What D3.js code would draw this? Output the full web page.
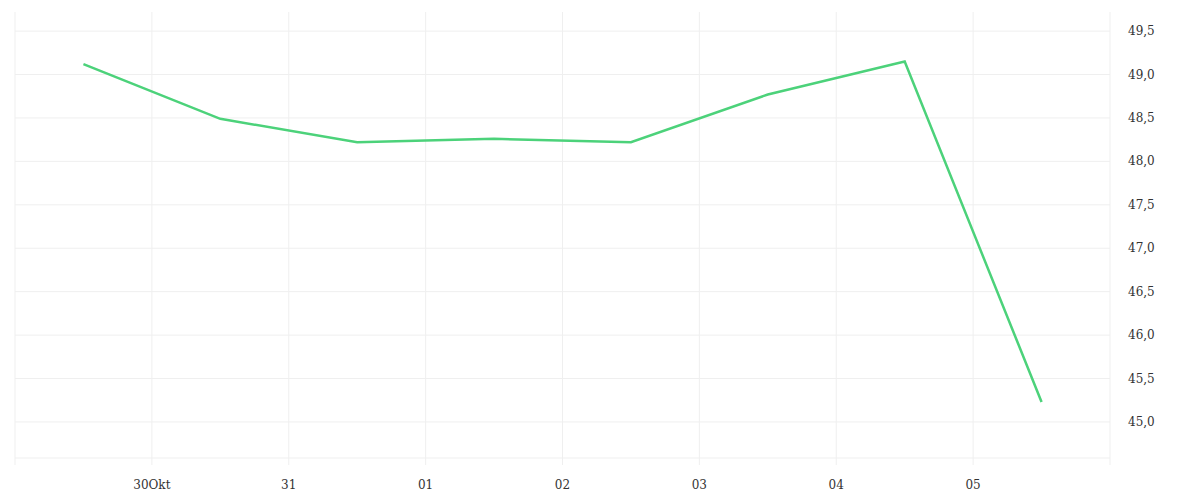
<!DOCTYPE html>
<html><head><meta charset="utf-8">
<script src="https://cdnjs.cloudflare.com/ajax/libs/d3/7.8.5/d3.min.js"></script>
<style>body{margin:0;background:#fff}</style>
</head><body>
<script>
// data
const dates = ["2023-10-29T12:00","2023-10-30T12:00","2023-10-31T12:00","2023-11-01T12:00",
               "2023-11-02T12:00","2023-11-03T12:00","2023-11-04T12:00","2023-11-05T12:00"];
const values = [49.12, 48.49, 48.22, 48.26, 48.22, 48.77, 49.15, 45.23];
const tickDates = ["2023-10-30","2023-10-31","2023-11-01","2023-11-02","2023-11-03","2023-11-04","2023-11-05"];
const tickLabels = ["30Okt","31","01","02","03","04","05"];
const yTicks = [45.0, 45.5, 46.0, 46.5, 47.0, 47.5, 48.0, 48.5, 49.0, 49.5];

const parse = d3.timeParse("%Y-%m-%dT%H:%M");
const parseDay = d3.timeParse("%Y-%m-%d");
const data = dates.map((d, i) => ({date: parse(d), value: values[i]}));

const plotLeft = 15, plotRight = 1110, plotTop = 12, plotBottom = 458;
const svg = d3.select("body").append("svg").attr("width", 1200).attr("height", 500);

const x = d3.scaleTime()
    .domain([parseDay("2023-10-29"), parseDay("2023-11-06")])
    .range([plotLeft, plotRight]);
const y = d3.scaleLinear().domain([44.585, 49.72]).range([plotBottom, plotTop]);

const grid = "#efefef";
const font = "'DejaVu Serif', serif";

// horizontal grid
svg.append("g").selectAll("line").data(yTicks.concat([44.585])).join("line")
    .attr("x1", plotLeft).attr("x2", plotRight)
    .attr("y1", d => y(d)).attr("y2", d => y(d))
    .attr("stroke", grid);

// vertical grid
const vDates = [parseDay("2023-10-29")].concat(tickDates.map(parseDay), [parseDay("2023-11-06")]);
svg.append("g").selectAll("line").data(vDates).join("line")
    .attr("x1", d => x(d)).attr("x2", d => x(d))
    .attr("y1", plotTop).attr("y2", plotBottom + 7)
    .attr("stroke", grid);

// x labels
svg.append("g").selectAll("text").data(tickDates).join("text")
    .attr("x", d => x(parseDay(d))).attr("y", 489)
    .attr("text-anchor", "middle")
    .style("font-family", font).style("font-size", "12px").style("fill", "#333")
    .text((d, i) => tickLabels[i]);

// y labels
svg.append("g").selectAll("text").data(yTicks).join("text")
    .attr("x", 1128).attr("y", d => y(d) + 4)
    .style("font-family", font).style("font-size", "12px").style("fill", "#333")
    .text(d => d3.format(".1f")(d).replace(".", ","));

// line
const line = d3.line().x(d => x(d.date)).y(d => y(d.value));
svg.append("path").datum(data)
    .attr("d", line)
    .attr("fill", "none")
    .attr("stroke", "#4cd27a")
    .attr("stroke-width", 2.5);
</script>
</body></html>
